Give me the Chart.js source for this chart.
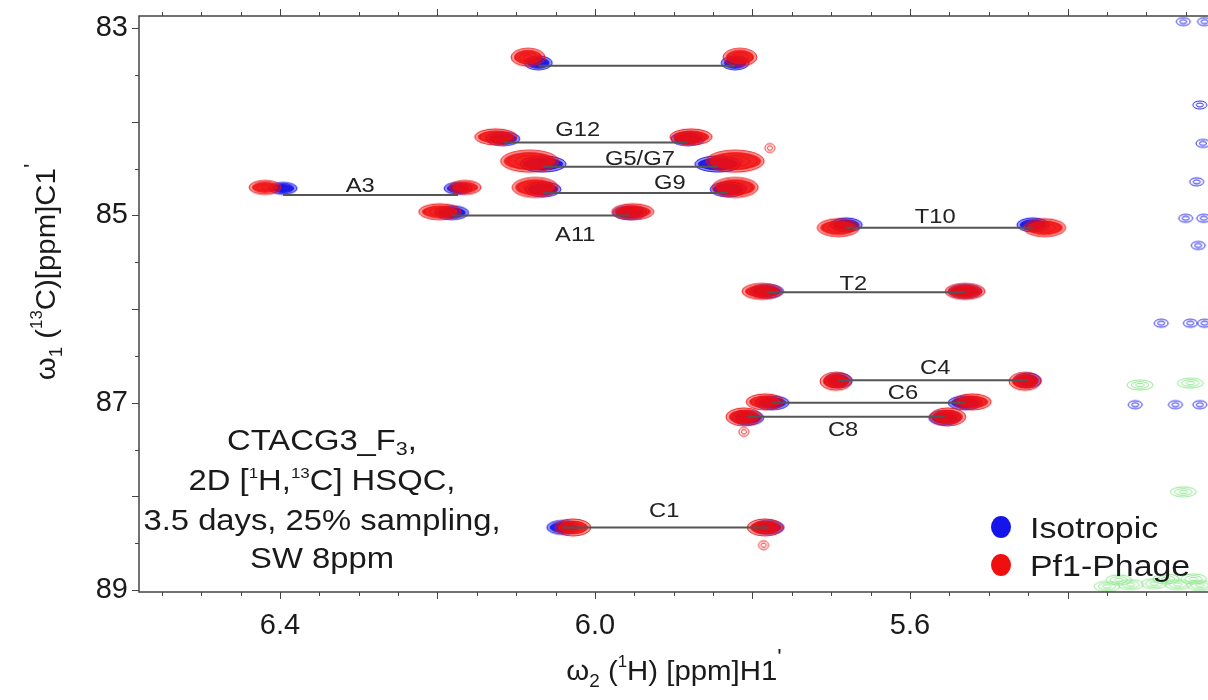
<!DOCTYPE html>
<html>
<head>
<meta charset="utf-8">
<script src="https://cdn.jsdelivr.net/npm/chart.js@4.4.1/dist/chart.umd.min.js"></script>
<style>
  html, body { margin: 0; padding: 0; background: #fff; }
</style>
</head>
<body>
<canvas id="hsqc" width="1208" height="700"></canvas>
<script>
// H1'-C1' pairs, one row per residue (first row unassigned)
const residues = ['', 'G12', 'G5/G7', 'G9', 'A3', 'A11', 'T10', 'T2', 'C4', 'C6', 'C8', 'C1'];

// isotropic sample (blue), ppm
const isoC      = [83.37, 84.18, 84.45, 84.72, 84.71, 84.97, 85.10, 85.81, 86.76, 87.00, 87.16, 88.33];
const isoLeftH  = [6.072, 6.117, 6.066, 6.066, 6.396, 6.182, 5.681, 5.782, 5.691, 5.775, 5.806, 6.041];
const isoRightH = [5.822, 5.882, 5.844, 5.831, 6.174, 5.956, 5.444, 5.530, 5.451, 5.530, 5.556, 5.780];

// Pf1-phage aligned sample (red), ppm
const phageC      = [83.31, 84.16, 84.42, 84.70, 84.70, 84.96, 85.13, 85.81, 86.77, 86.99, 87.15, 88.33];
const phageLeftH  = [6.085, 6.126, 6.083, 6.076, 6.419, 6.197, 5.691, 5.788, 5.694, 5.784, 5.811, 6.028];
const phageRightH = [5.816, 5.878, 5.822, 5.822, 6.165, 5.952, 5.429, 5.530, 5.454, 5.521, 5.552, 5.784];

// connecting lines (13C of the pair) and label spots
const lineC  = [83.40, 84.22, 84.48, 84.76, 84.78, 85.00, 85.13, 85.82, 86.76, 87.00, 87.15, 88.33];
const labelH = [null, 6.022, 5.943, 5.905, 6.298, 6.025, 5.568, 5.672, 5.568, 5.609, 5.685, 5.912];
const labelC = [null, 84.07, 84.38, 84.63, 84.66, 85.19, 85.00, 85.71, 86.61, 86.87, 87.27, 88.13];

// weak extra contours
const redNoiseH = [5.778, 5.786, 5.811];
const redNoiseC = [84.28, 88.52, 87.31];
const blueNoiseH = [5.253, 5.226, 5.232, 5.228, 5.236, 5.250, 5.227, 5.234, 5.281, 5.244, 5.226, 5.314, 5.263, 5.232];
const blueNoiseC = [82.93, 82.93, 83.82, 84.23, 84.64, 85.03, 85.03, 85.32, 86.15, 86.15, 86.15, 87.02, 87.02, 87.02];
const greenNoiseH = [5.308, 5.244, 5.253, 5.350, 5.320, 5.290, 5.260, 5.232, 5.335, 5.275, 5.240];
const greenNoiseC = [86.81, 86.79, 87.95, 88.96, 88.94, 88.93, 88.94, 88.95, 88.89, 88.88, 88.88];

const xTickLabels = [6.4, 6.0, 5.6];
const yTickLabels = [83, 85, 87, 89];

// peak sizes in px (style only)
const redW  = [34, 42, 58, 46, 32, 42, 42, 40, 32, 38, 36, 36];
const redH  = [18, 16, 22, 20, 14, 16, 18, 16, 18, 16, 18, 17];
const blueW = [28, 34, 46, 36, 28, 34, 32, 34, 28, 34, 32, 32];
const blueH = [14, 14, 16, 15, 12, 14, 14, 14, 15, 14, 15, 14];

const RED = 'rgb(240,15,15)';
const BLUE = 'rgb(20,20,235)';
const GREEN = 'rgb(140,230,140)';
const FONT = '"Liberation Sans", Arial, sans-serif';
const STRETCH = 1.13;

function contour(color, w, h, rings, fill) {
  const c = document.createElement('canvas');
  c.width = w + 4;
  c.height = h + 4;
  const g = c.getContext('2d');
  g.translate(c.width / 2, c.height / 2);
  if (fill) {
    g.globalAlpha = fill * 0.5;
    g.fillStyle = color;
    g.beginPath();
    g.ellipse(0, 0, w / 2, h / 2, 0, 0, Math.PI * 2);
    g.fill();
    g.globalAlpha = fill;
    g.beginPath();
    g.ellipse(0, 0, w / 2 - 3, h / 2 - 2, 0, 0, Math.PI * 2);
    g.fill();
  }
  g.globalAlpha = 0.9;
  g.strokeStyle = color;
  g.lineWidth = 1;
  for (let k = 0; k < rings; k++) {
    const f = 1 - k / rings;
    g.beginPath();
    g.ellipse(0, 0, w / 2 * f, h / 2 * f, 0, 0, Math.PI * 2);
    g.stroke();
  }
  return c;
}

const pairs = (left, right, c) => residues.flatMap((r, i) => [{x: left[i], y: c[i]}, {x: right[i], y: c[i]}]);
const pts = (h, c) => h.map((v, i) => ({x: v, y: c[i]}));
const phageImgs = residues.flatMap((r, i) => { const im = contour(RED, redW[i], redH[i], 4, 0.85); return [im, im]; });
const isoImgs = residues.flatMap((r, i) => { const im = contour(BLUE, blueW[i], blueH[i], 4, 0.9); return [im, im]; });

const lineSets = residues.map((r, i) => ({
  type: 'line',
  data: [{x: isoLeftH[i], y: lineC[i]}, {x: isoRightH[i], y: lineC[i]}],
  borderColor: '#555',
  borderWidth: 2,
  pointRadius: 0,
  order: 0
}));

// rich text: parts = [text, size, dy]
function rich(ctx, parts, x, y, align, stretch) {
  let w = 0;
  parts.forEach(p => { ctx.font = p[1] + 'px ' + FONT; w += ctx.measureText(p[0]).width; });
  ctx.save();
  ctx.translate(x, y);
  ctx.scale(stretch, 1);
  let cx = align === 'center' ? -w / 2 : 0;
  ctx.textAlign = 'left';
  ctx.textBaseline = 'alphabetic';
  parts.forEach(p => {
    ctx.font = p[1] + 'px ' + FONT;
    ctx.fillText(p[0], cx, p[2] || 0);
    cx += ctx.measureText(p[0]).width;
  });
  ctx.restore();
}

const decor = {
  id: 'decor',
  afterDatasetsDraw(chart) {
    const {ctx, scales: {x, y}} = chart;
    ctx.save();
    ctx.fillStyle = '#222';
    residues.forEach((r, i) => {
      if (!r) return;
      rich(ctx, [[r, 21, 0]], x.getPixelForValue(labelH[i]), y.getPixelForValue(labelC[i]) + 8, 'center', STRETCH);
    });
    ctx.restore();
  },
  afterDraw(chart) {
    const {ctx, chartArea: a, scales: {x, y}} = chart;
    ctx.save();
    ctx.strokeStyle = '#444';
    ctx.lineWidth = 1.5;
    ctx.beginPath();
    ctx.moveTo(a.right, a.top);
    ctx.lineTo(a.left, a.top);
    ctx.lineTo(a.left, a.bottom);
    ctx.lineTo(a.right, a.bottom);
    ctx.stroke();
    ctx.lineWidth = 1;
    ctx.beginPath();
    for (let c = 525; c <= 655; c += 5) {
      const px = Math.round(x.getPixelForValue(c / 100)) + 0.5;
      const len = c % 20 === 0 ? 7 : 4;
      ctx.moveTo(px, a.bottom); ctx.lineTo(px, a.bottom + len);
      ctx.moveTo(px, a.top); ctx.lineTo(px, a.top - len);
    }
    for (let c = 830; c <= 890; c += 5) {
      const py = Math.round(y.getPixelForValue(c / 10)) + 0.5;
      const len = c % 10 === 0 ? 7 : 4;
      ctx.moveTo(a.left, py); ctx.lineTo(a.left - len, py);
    }
    ctx.stroke();

    ctx.fillStyle = '#1a1a1a';
    // axis titles
    rich(ctx, [['ω', 28, 0], ['2', 18, 7], [' (', 28, 0], ['1', 16, -13], ['H) [ppm]H1', 28, 0], ['\'', 22, -16]],
      674, 680, 'center', 1.05);
    ctx.save();
    ctx.translate(55, 272);
    ctx.rotate(-Math.PI / 2);
    rich(ctx, [['ω', 28, 0], ['1', 18, 7], [' (', 28, 0], ['13', 16, -13], ['C)[ppm]C1', 28, 0], ['\'', 22, -16]],
      0, 0, 'center', 1.05);
    ctx.restore();

    // sample description
    rich(ctx, [['CTACG3_F', 29, 0], ['3', 19, 5], [',', 29, 0]], 322, 450, 'center', STRETCH);
    rich(ctx, [['2D [', 29, 0], ['1', 15, -12], ['H,', 29, 0], ['13', 15, -12], ['C] HSQC,', 29, 0]], 322, 490, 'center', STRETCH);
    rich(ctx, [['3.5 days, 25% sampling,', 29, 0]], 322, 530, 'center', STRETCH);
    rich(ctx, [['SW 8ppm', 29, 0]], 322, 568, 'center', STRETCH);

    // legend
    [[BLUE, 'Isotropic', 527], [RED, 'Pf1-Phage', 565]].forEach(([col, txt, py]) => {
      ctx.fillStyle = col;
      ctx.beginPath();
      ctx.ellipse(1001, py, 10, 11, 0, 0, Math.PI * 2);
      ctx.fill();
      ctx.fillStyle = '#1a1a1a';
      rich(ctx, [[txt, 30, 0]], 1030, py + 11, 'left', STRETCH);
    });
    ctx.restore();
  }
};

new Chart(document.getElementById('hsqc'), {
  type: 'scatter',
  data: {
    datasets: [
      ...lineSets,
      {
        data: pairs(phageLeftH, phageRightH, phageC),
        pointStyle: phageImgs,
        pointRadius: 6,
        order: 1
      },
      {
        data: pairs(isoLeftH, isoRightH, isoC),
        pointStyle: isoImgs,
        pointRadius: 6,
        order: 2
      },
      {
        data: pts(redNoiseH, redNoiseC),
        pointStyle: contour(RED, 10, 9, 2, 0),
        pointRadius: 4,
        order: 3
      },
      {
        data: pts(blueNoiseH, blueNoiseC),
        pointStyle: contour(BLUE, 14, 8, 2, 0),
        pointRadius: 4,
        order: 4
      },
      {
        data: pts(greenNoiseH, greenNoiseC),
        pointStyle: contour(GREEN, 26, 10, 3, 0),
        pointRadius: 4,
        order: 5
      }
    ]
  },
  options: {
    responsive: false,
    animation: false,
    devicePixelRatio: 1,
    layout: { autoPadding: false, padding: { top: 16, right: 0, left: 0, bottom: 0 } },
    plugins: { legend: { display: false }, tooltip: { enabled: false } },
    scales: {
      x: {
        type: 'linear',
        position: 'bottom',
        reverse: true,
        min: 5.2216,
        max: 6.579,
        grid: { display: false, drawTicks: false },
        border: { display: false },
        ticks: { font: { size: 29, family: FONT }, color: '#1a1a1a', padding: 17, autoSkip: false, maxRotation: 0,
          callback: v => v.toFixed(1) },
        afterBuildTicks: s => { s.ticks = xTickLabels.map(v => ({value: v})); },
        afterFit: s => { s.height = 108; s.paddingLeft = 0; s.paddingRight = 0; }
      },
      y: {
        type: 'linear',
        reverse: true,
        min: 82.87,
        max: 89.02,
        grid: { display: false, drawTicks: false },
        border: { display: false },
        ticks: { font: { size: 29, family: FONT }, color: '#1a1a1a', padding: 11, autoSkip: false,
          callback: v => String(v) },
        afterBuildTicks: s => { s.ticks = yTickLabels.map(v => ({value: v})); },
        afterFit: s => { s.width = 139; s.paddingTop = 0; s.paddingBottom = 0; }
      }
    }
  },
  plugins: [decor]
});
</script>
</body>
</html>
